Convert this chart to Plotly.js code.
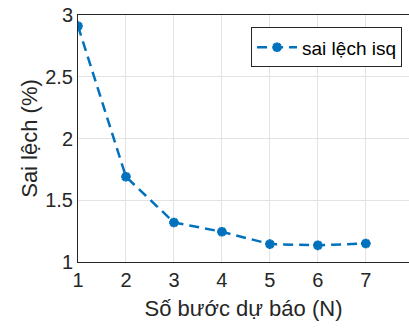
<!DOCTYPE html>
<html><head><meta charset="utf-8">
<script src="https://cdn.plot.ly/plotly-3.0.1.min.js"></script>
<style>html,body{margin:0;padding:0;background:#fff}#c{width:409px;height:329px}</style>
</head><body><div id="c"></div>
<script>
const steps = [1, 2, 3, 4, 5, 6, 7];
const deviation = [2.91, 1.69, 1.32, 1.245, 1.145, 1.135, 1.15];
const seriesName = 'sai lệch isq';
const xTitle = 'Số bước dự báo (N)';
const yTitle = 'Sai lệch (%)';

const fontFam = '"Liberation Sans", Arial, sans-serif';
const trace = {
  x: steps, y: deviation, name: seriesName, type: 'scatter', mode: 'lines+markers',
  line: {color: '#0072BD', width: 2.5, dash: '10px,6px'},
  marker: {symbol: 'asterisk-open', size: 8, color: '#0072BD', line: {color: '#0072BD', width: 3}}
};
const layout = {
  width: 409, height: 329,
  margin: {l: 78, r: 0, t: 15, b: 67},
  paper_bgcolor: '#fff', plot_bgcolor: '#fff',
  font: {family: fontFam, color: '#262626', size: 20},
  showlegend: true,
  legend: {x: 0.979, xanchor: 'right', y: 0.95, yanchor: 'top', bgcolor: '#fff',
    bordercolor: '#262626', borderwidth: 1, font: {size: 19, color: '#000'}, itemwidth: 40,
    tracegroupgap: 0},
  xaxis: {range: [1, 7.9], tickvals: steps, showgrid: true, gridcolor: '#e3e3e3', gridwidth: 1,
    showline: true, linecolor: '#262626', linewidth: 1, mirror: true, zeroline: false,
    ticks: '', tickfont: {size: 20, color: '#262626'},
    title: {text: xTitle, font: {size: 22, color: '#262626'}, standoff: 10}},
  yaxis: {range: [1, 3], tickvals: [1, 1.5, 2, 2.5, 3], ticktext: ['1', '1.5', '2', '2.5', '3'],
    showgrid: true, gridcolor: '#e3e3e3', gridwidth: 1,
    showline: true, linecolor: '#262626', linewidth: 1, mirror: false, zeroline: false,
    ticks: '', tickfont: {size: 20, color: '#262626'},
    title: {text: yTitle, font: {size: 22, color: '#262626'}, standoff: 1}}
};
Plotly.newPlot('c', [trace], layout, {displayModeBar: false, staticPlot: true});
</script></body></html>
